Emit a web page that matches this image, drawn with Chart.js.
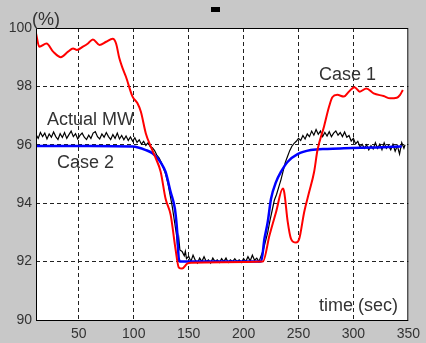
<!DOCTYPE html>
<html lang="en">
<head>
<meta charset="UTF-8">
<title>Case 1 / Case 2 / Actual MW</title>
<script src="https://cdn.jsdelivr.net/npm/chart.js@4"></script>
<style>
  html, body { margin: 0; padding: 0; background: #c8c8c8; }
  #wrap { width: 426px; height: 343px; }
</style>
<script>
// Case 1 (red)
const timeCase1 = [11, 14, 20.6, 26.6, 33.6, 40.2, 44.7, 48.3, 53.7, 58.3, 62.8, 68.8, 74.9, 80.8, 83.9, 86.9, 89.9, 92.9, 98.9, 103.4, 106.5, 111, 115.5, 120, 124.5, 129, 133.6, 138, 141, 144, 148.6, 153, 180, 217.6, 223.6, 229.6, 235.7, 237, 240.2, 243.2, 247.7, 250.7, 255.2, 259.7, 264.2, 267.3, 273.2, 277.8, 280.8, 285.3, 291.3, 295.8, 301, 305.8, 311.8, 318.4, 327.5, 333.5, 339.5, 342.5, 345];
const case1 = [99.82, 99.36, 99.47, 99.19, 99.0, 99.19, 99.3, 99.25, 99.36, 99.47, 99.61, 99.42, 99.53, 99.63, 99.47, 98.96, 98.62, 98.33, 97.65, 97.42, 97.13, 96.39, 95.94, 95.54, 95.08, 94.15, 93.6, 92.44, 91.8, 91.76, 91.93, 91.96, 91.98, 92.0, 92.9, 93.7, 94.5, 94.38, 93.36, 92.78, 92.65, 92.78, 93.7, 94.38, 95.07, 95.82, 96.62, 97.3, 97.63, 97.71, 97.65, 97.82, 97.97, 97.82, 97.93, 97.76, 97.67, 97.59, 97.61, 97.71, 97.88];

// Case 2 (blue)
const timeCase2 = [11, 60, 98.9, 111, 117, 123, 127.5, 129, 133.6, 137.5, 139.6, 141, 142.6, 180, 216, 219, 222, 225, 229.6, 234, 240.2, 249.2, 261.2, 276.3, 291.3, 321.5, 344];
const case2 = [95.96, 95.96, 95.94, 95.82, 95.71, 95.48, 95.2, 95.07, 94.38, 93.8, 93.0, 92.1, 92.0, 92.0, 92.0, 92.78, 93.36, 94.15, 94.73, 95.07, 95.42, 95.68, 95.82, 95.86, 95.88, 95.91, 95.94];

// Actual MW (black)
const timeActual = [11, 13, 15, 17, 19, 21, 23, 25, 27, 29, 31, 33, 35, 37, 39, 41, 43, 45, 47, 49, 51, 53, 55, 57, 59, 61, 63, 65, 67, 69, 71, 73, 75, 77, 79, 81, 83, 85, 87, 89, 91, 93, 95, 97, 99, 101, 103, 105, 107, 109, 111, 113, 115, 117, 119, 121, 123, 125, 127, 129, 131, 133, 135, 137, 139, 140, 141, 142, 144, 146, 147, 148, 150, 152, 154, 156, 158, 160, 162, 164, 166, 168, 170, 172, 174, 176, 178, 180, 182, 184, 186, 188, 190, 192, 194, 196, 198, 200, 202, 204, 206, 208, 210, 212, 214, 216, 218, 220, 222, 224, 226, 228, 230, 232, 234, 236, 238, 240, 242, 244, 246, 248, 250, 252, 254, 256, 258, 260, 262, 264, 266, 268, 270, 272, 274, 276, 278, 280, 282, 284, 286, 288, 290, 292, 294, 296, 298, 300, 302, 304, 306, 308, 310, 312, 314, 316, 318, 320, 322, 324, 326, 328, 330, 332, 334, 336, 338, 340, 342, 344, 346, 347];
const actualMW = [96.35, 96.22, 96.42, 96.28, 96.4, 96.2, 96.37, 96.26, 96.44, 96.28, 96.18, 96.38, 96.25, 96.42, 96.22, 96.35, 96.47, 96.28, 96.38, 96.2, 96.32, 96.4, 96.26, 96.18, 96.33, 96.22, 96.4, 96.45, 96.28, 96.2, 96.37, 96.26, 96.42, 96.28, 96.18, 96.35, 96.22, 96.4, 96.2, 96.32, 96.17, 96.3, 96.15, 96.27, 96.12, 96.24, 96.08, 96.17, 96.02, 96.12, 95.98, 96.07, 95.93, 95.9, 95.8, 95.65, 95.55, 95.4, 95.2, 95.0, 94.7, 94.3, 93.9, 93.4, 92.9, 92.5, 92.8, 92.4, 92.35, 92.2, 92.35, 92.1, 92.18, 92.0, 92.22, 92.05, 91.95, 92.12, 92.0, 92.17, 92.0, 92.06, 91.95, 92.12, 92.0, 92.06, 91.97, 92.1, 92.0, 92.12, 91.97, 92.06, 92.0, 92.1, 92.0, 92.06, 91.97, 92.1, 92.0, 92.17, 92.02, 92.22, 92.05, 92.12, 92.0, 92.2, 92.4, 92.7, 93.0, 93.4, 93.75, 94.1, 94.3, 94.55, 94.8, 95.1, 95.4, 95.6, 95.8, 95.95, 96.05, 96.12, 96.22, 96.15, 96.32, 96.2, 96.37, 96.28, 96.47, 96.33, 96.52, 96.36, 96.47, 96.28, 96.42, 96.3, 96.45, 96.28, 96.4, 96.47, 96.33, 96.42, 96.28, 96.44, 96.26, 96.32, 96.13, 96.22, 96.03, 96.12, 95.93, 96.02, 95.88, 96.0, 95.83, 95.97, 95.86, 96.07, 95.88, 96.02, 95.83, 96.07, 95.88, 95.97, 95.83, 96.02, 95.78, 95.97, 95.68, 96.07, 95.88, 96.0];

const xTicks = [50, 100, 150, 200, 250, 300, 350];
const yTicks = [90, 92, 94, 96, 98, 100];

function pts(xs, ys) {
  return xs.map((x, i) => ({ x: x, y: ys[i] }));
}

document.addEventListener("DOMContentLoaded", function() {

  const ctx = document.getElementById('myChart').getContext('2d');

  // gray figure, white axes box, black frame, text labels
  const figurePlugin = {
    id: 'figure',
    beforeDraw(chart) {
      const c = chart.ctx, a = chart.chartArea;
      c.save();
      c.fillStyle = '#c8c8c8';
      c.fillRect(0, 0, chart.width, chart.height);
      c.fillStyle = '#ffffff';
      c.fillRect(a.left, a.top, a.right - a.left, a.bottom - a.top);
      c.fillStyle = '#000';
      c.fillRect(211, 7, 9, 5);
      c.restore();
    },
    afterDraw(chart) {
      const c = chart.ctx, a = chart.chartArea;
      c.save();
      c.strokeStyle = '#000';
      c.lineWidth = 1;
      c.strokeRect(a.left + 0.5, a.top + 0.5, a.right - a.left - 1, a.bottom - a.top);
      c.fillStyle = '#333';
      c.font = '18px "Liberation Sans", Arial, sans-serif';
      c.textBaseline = 'middle';
      c.textAlign = 'left';
      c.fillText('(%)', 32, 20);
      c.fillText('Case 1', 319, 75);
      c.fillText('Actual MW', 47, 120);
      c.fillText('Case 2', 57, 163);
      c.fillText('time (sec)', 319, 306);
      c.restore();
    }
  };

  const tickFont = { family: '"Liberation Sans", Arial, sans-serif', size: 14 };

  new Chart(ctx, {
    type: 'line',
    data: {
      datasets: [
        {
          label: 'Case 1',
          data: pts(timeCase1, case1),
          borderColor: '#ff0000',
          borderWidth: 2,
          cubicInterpolationMode: 'monotone',
          order: 0
        },
        {
          label: 'Case 2',
          data: pts(timeCase2, case2),
          borderColor: '#0000ff',
          borderWidth: 2.5,
          cubicInterpolationMode: 'monotone',
          order: 1
        },
        {
          label: 'Actual MW',
          data: pts(timeActual, actualMW),
          borderColor: '#000000',
          borderWidth: 1.2,
          tension: 0,
          order: 2
        }
      ]
    },
    options: {
      responsive: false,
      animation: false,
      events: [],
      elements: { point: { radius: 0 } },
      layout: { padding: { left: 0, top: 28, right: 14, bottom: 0 } },
      plugins: { legend: { display: false }, tooltip: { enabled: false } },
      scales: {
        x: {
          type: 'linear',
          min: 11,
          max: 350,
          afterBuildTicks: s => { s.ticks = xTicks.map(v => ({ value: v })); },
          afterFit: s => { s.height = 23; },
          grid: {
            color: c => (c.tick && c.tick.value === 350) ? 'rgba(0,0,0,0)' : '#222',
            lineWidth: 1,
            drawTicks: false
          },
          border: { display: false, dash: [4, 3] },
          ticks: { font: tickFont, color: '#333', padding: 6, maxRotation: 0 }
        },
        y: {
          min: 90,
          max: 100,
          afterBuildTicks: s => { s.ticks = yTicks.map(v => ({ value: v })); },
          afterFit: s => { s.width = 36; },
          grid: {
            color: c => (c.tick && (c.tick.value === 90 || c.tick.value === 100)) ? 'rgba(0,0,0,0)' : '#222',
            lineWidth: 1,
            drawTicks: false
          },
          border: { display: false, dash: [4, 3] },
          ticks: { font: tickFont, color: '#333', padding: 4 }
        }
      }
    },
    plugins: [figurePlugin]
  });
});
</script>
</head>
<body>
<div id="wrap"><canvas id="myChart" width="426" height="343"></canvas></div>
</body>
</html>
